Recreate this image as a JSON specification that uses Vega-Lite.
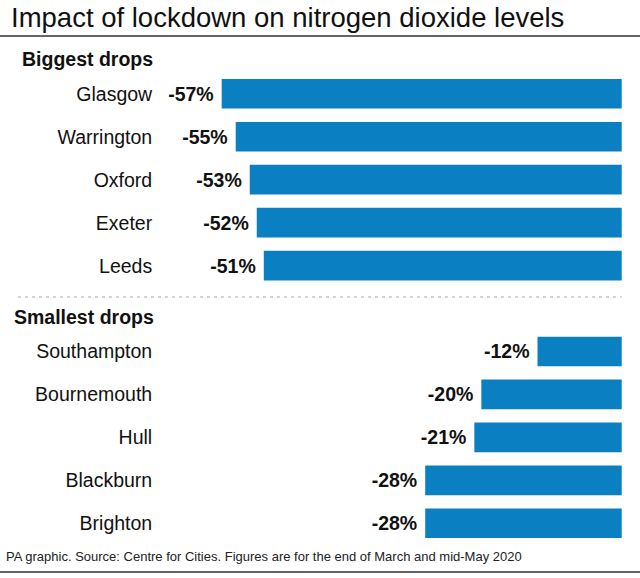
{
  "$schema": "https://vega.github.io/schema/vega-lite/v6.json",
  "width": 644,
  "height": 536,
  "autosize": {"type": "none"},
  "padding": {"left": -2, "right": -2, "top": 36, "bottom": 6},
  "background": "white",
  "title": {
    "text": "Impact of lockdown on nitrogen dioxide levels",
    "anchor": "start",
    "frame": "group",
    "dx": 13,
    "offset": -18,
    "baseline": "alphabetic",
    "font": "Liberation Sans",
    "fontSize": 27.5,
    "fontWeight": "normal",
    "color": "#111111"
  },
  "view": {"stroke": "#333333", "strokeWidth": 1.6},
  "config": {"font": "Liberation Sans"},
  "data": {
    "values": [
      {"city": "Glasgow", "group": "Biggest drops", "value": -57},
      {"city": "Warrington", "group": "Biggest drops", "value": -55},
      {"city": "Oxford", "group": "Biggest drops", "value": -53},
      {"city": "Exeter", "group": "Biggest drops", "value": -52},
      {"city": "Leeds", "group": "Biggest drops", "value": -51},
      {"city": "Southampton", "group": "Smallest drops", "value": -12},
      {"city": "Bournemouth", "group": "Smallest drops", "value": -20},
      {"city": "Hull", "group": "Smallest drops", "value": -21},
      {"city": "Blackburn", "group": "Smallest drops", "value": -28},
      {"city": "Brighton", "group": "Smallest drops", "value": -28}
    ]
  },
  "layer": [
    {
      "mark": {"type": "bar", "color": "#0a7fc1"},
      "encoding": {
        "y": {
          "field": "city",
          "type": "nominal",
          "axis": null,
          "sort": null,
          "scale": {
            "domain": ["Glasgow", "Warrington", "Oxford", "Exeter", "Leeds", "Smallest drops", "Southampton", "Bournemouth", "Hull", "Blackburn", "Brighton"],
            "paddingInner": 0.31,
            "paddingOuter": 0.895,
            "align": 0.559
          }
        },
        "x": {
          "field": "value",
          "type": "quantitative",
          "axis": null,
          "scale": {"domain": [-88.87, 2.89], "nice": false, "zero": false}
        }
      }
    },
    {
      "transform": [{"calculate": "datum.value + '%'", "as": "label"}],
      "mark": {"type": "text", "align": "right", "baseline": "middle", "dx": -8, "dy": 1, "fontSize": 19.5, "fontWeight": "bold", "color": "#111111"},
      "encoding": {
        "y": {"field": "city", "type": "nominal"},
        "x": {"field": "value", "type": "quantitative"},
        "text": {"field": "label", "type": "nominal"}
      }
    },
    {
      "mark": {"type": "text", "align": "right", "baseline": "middle", "dy": 1, "fontSize": 19.5, "color": "#111111"},
      "encoding": {
        "y": {"field": "city", "type": "nominal"},
        "x": {"datum": -66.9, "type": "quantitative"},
        "text": {"field": "city", "type": "nominal"}
      }
    },
    {
      "data": {"values": [{"header": "Biggest drops"}]},
      "mark": {"type": "text", "align": "left", "baseline": "middle", "fontSize": 19.5, "fontWeight": "bold", "color": "#111111", "yOffset": -19},
      "encoding": {
        "y": {"datum": "Glasgow", "type": "nominal", "bandPosition": 0},
        "x": {"datum": -85.45, "type": "quantitative"},
        "text": {"field": "header", "type": "nominal"}
      }
    },
    {
      "data": {"values": [{"header": "Smallest drops"}]},
      "mark": {"type": "text", "align": "left", "baseline": "middle", "fontSize": 19.5, "fontWeight": "bold", "color": "#111111"},
      "encoding": {
        "y": {"datum": "Smallest drops", "type": "nominal", "bandPosition": 0.83},
        "x": {"datum": -86.59, "type": "quantitative"},
        "text": {"field": "header", "type": "nominal"}
      }
    },
    {
      "data": {"values": [{"sep": "divider"}]},
      "mark": {"type": "rule", "color": "#aaaaaa", "strokeWidth": 1, "strokeDash": [3, 4]},
      "encoding": {
        "y": {"datum": "Smallest drops", "type": "nominal", "bandPosition": 0.11},
        "x": {"datum": -86.02, "type": "quantitative"},
        "x2": {"datum": 0}
      }
    },
    {
      "data": {"values": [{"note": "PA graphic. Source: Centre for Cities. Figures are for the end of March and mid-May 2020"}]},
      "mark": {"type": "text", "align": "left", "baseline": "alphabetic", "fontSize": 13, "color": "#222222", "yOffset": 23},
      "encoding": {
        "y": {"datum": "Brighton", "type": "nominal", "bandPosition": 1},
        "x": {"datum": -87.73, "type": "quantitative"},
        "text": {"field": "note", "type": "nominal"}
      }
    }
  ]
}
